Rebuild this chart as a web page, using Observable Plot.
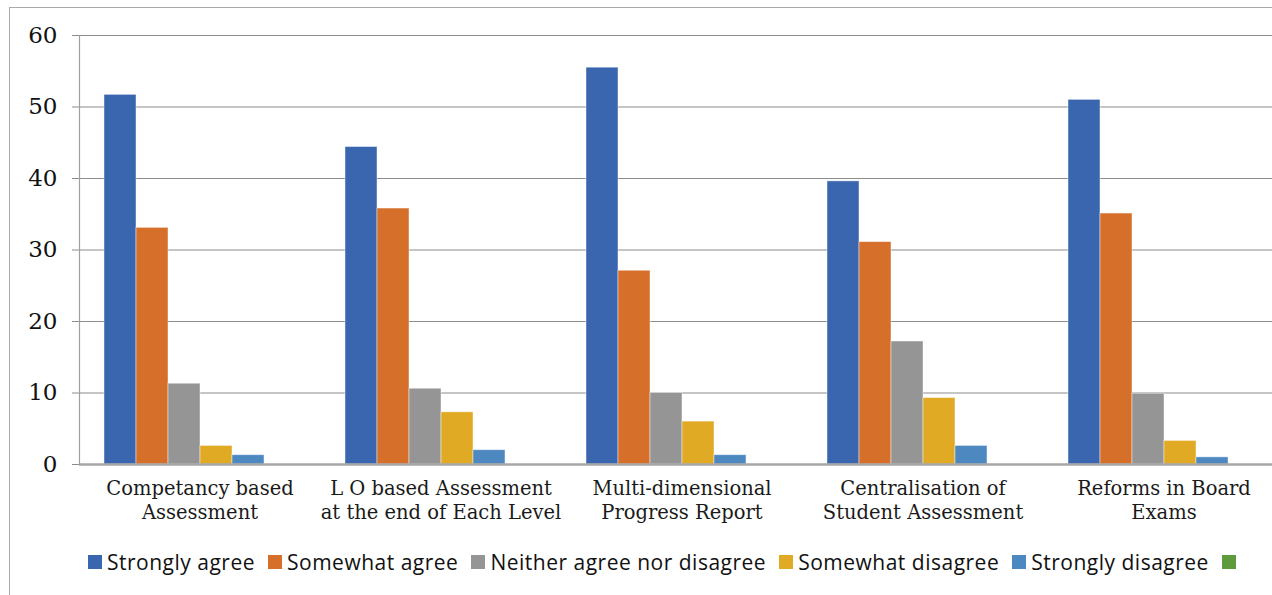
<!DOCTYPE html>
<html>
<head>
<meta charset="utf-8">
<script src="https://cdn.jsdelivr.net/npm/d3@7"></script>
<script src="https://cdn.jsdelivr.net/npm/@observablehq/plot@0.6"></script>
<style>
  html, body { margin: 0; padding: 0; background: #fff; overflow: hidden; width: 1272px; height: 595px; }
  #frame { position: absolute; left: 9px; top: 7px; width: 1400px; height: 700px;
           border-left: 1px solid #a9a9a9; border-top: 1px solid #a9a9a9; pointer-events: none; }
  #chart { position: absolute; left: 0; top: 0; width: 1284px; }
  #chart svg { max-width: none !important; }
  #legend { position: absolute; left: 88px; top: 548px; display: flex; align-items: center;
            font-family: "Open Sans", "Noto Sans", sans-serif; font-size: 21px; letter-spacing: 0.5px;
            color: #111; line-height: 28px; white-space: nowrap; }
  .item { display: flex; align-items: center; margin-right: 13px; }
  .sw { width: 14px; height: 14px; margin-right: 5px; }
</style>
</head>
<body>
<div id="chart"></div>
<div id="legend"></div>
<div id="frame"></div>
<script>
// Survey topics (x groups), two-line labels
const categories = [
  "Competancy based\nAssessment",
  "L O based Assessment\nat the end of Each Level",
  "Multi-dimensional\nProgress Report",
  "Centralisation of\nStudent Assessment",
  "Reforms in Board\nExams"
];

// Response series; the sixth series carries no values but keeps its slot
const seriesNames = [
  "Strongly agree",
  "Somewhat agree",
  "Neither agree nor disagree",
  "Somewhat disagree",
  "Strongly disagree",
  ""
];
const seriesColors = ["#3a66af", "#d56f2a", "#959595", "#e0aa25", "#4e88c0", "#5e9b3c"];

// Percentages per series, in category order
const stronglyAgree    = [51.7, 44.4, 55.5, 39.6, 51.0];
const somewhatAgree    = [33.1, 35.8, 27.1, 31.1, 35.1];
const neither          = [11.3, 10.6, 10.0, 17.2, 9.9];
const somewhatDisagree = [2.6, 7.3, 6.0, 9.3, 3.3];
const stronglyDisagree = [1.3, 2.0, 1.3, 2.6, 1.0];

const yTicks = [0, 10, 20, 30, 40, 50, 60];

const seriesValues = [stronglyAgree, somewhatAgree, neither, somewhatDisagree, stronglyDisagree];
const rows = [];
seriesValues.forEach((vals, s) => {
  vals.forEach((v, c) => rows.push({category: categories[c], series: seriesNames[s], value: v}));
});

const chart = Plot.plot({
  width: 1284,
  height: 530,
  marginLeft: 79,
  marginRight: 0,
  marginTop: 35,
  marginBottom: 66,
  style: {fontFamily: "'DejaVu Serif', serif", color: "#1a1a1a", background: "transparent",
          overflow: "visible", maxWidth: "none"},
  fx: {domain: categories, paddingInner: 0, paddingOuter: 0, label: null},
  x: {domain: seriesNames, paddingInner: 0, paddingOuter: 0.7656, axis: null},
  y: {domain: [0, 60], label: null},
  color: {domain: seriesNames, range: seriesColors},
  marks: [
    Plot.gridY(yTicks, {stroke: "#8c8c8c", strokeOpacity: 1, strokeWidth: 1.2}),
    Plot.barY(rows, {fx: "category", x: "series", y: "value", fill: "series",
                     stroke: "#ffffff", strokeOpacity: 0.55, strokeWidth: 0.8}),
    Plot.ruleY([0], {stroke: "#a6a6a6", strokeWidth: 2.5}),
    Plot.frame({anchor: "left", facetAnchor: "left", stroke: "#a0a0a0", strokeWidth: 1.2}),
    Plot.axisY(yTicks, {tickSize: 7, tickPadding: 15, fontSize: 23, stroke: "#8c8c8c",
                        fill: "#111", label: null}),
    Plot.axisFx({anchor: "bottom", tickSize: 0, tickPadding: 13, fontSize: 19.5,
                 lineHeight: 1.23, fill: "#1a1a1a", label: null})
  ]
});
document.getElementById("chart").appendChild(chart);

// Legend below the plot
const legend = document.getElementById("legend");
seriesNames.forEach((name, i) => {
  const item = document.createElement("div");
  item.className = "item";
  const sw = document.createElement("span");
  sw.className = "sw";
  sw.style.background = seriesColors[i];
  item.appendChild(sw);
  if (name) {
    const t = document.createElement("span");
    t.textContent = name;
    item.appendChild(t);
  }
  legend.appendChild(item);
});
</script>
</body>
</html>
